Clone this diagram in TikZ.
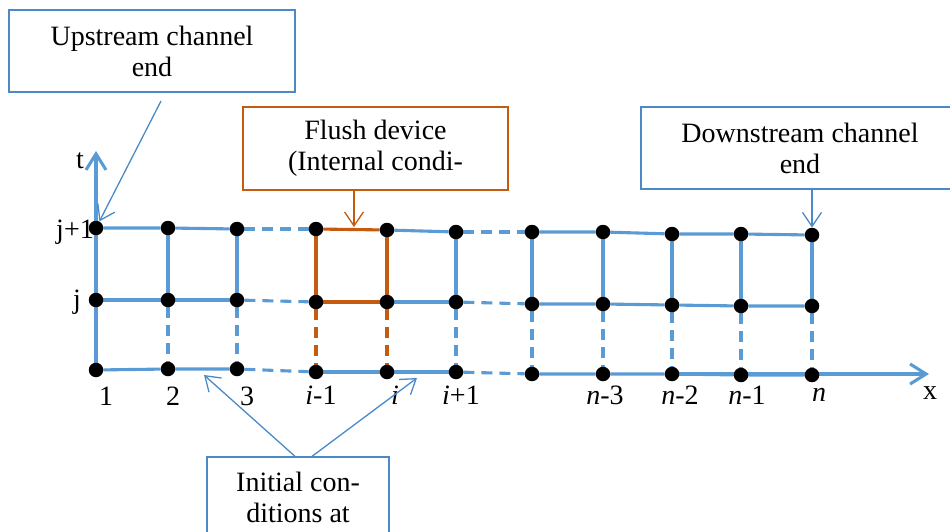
\documentclass[tikz,border=0pt]{standalone}
\usepackage{fontspec}
\setmainfont{Liberation Serif}
\usepackage{tikz}
\pgfdeclarelayer{background}
\pgfsetlayers{background,main}
\usetikzlibrary{arrows.meta, positioning}
\definecolor{meshblue}{HTML}{5B9BD5}
\definecolor{noteblue}{HTML}{4A8AC9}
\definecolor{flushor}{HTML}{C55A11}

\begin{document}
\begin{tikzpicture}[x=1pt, y=-1pt,
    every node/.style={font=\fontsize{28}{31}\selectfont},
    gdot/.style={circle, fill=black, inner sep=0pt, minimum size=14.5pt},
    mesh/.style={line width=3.1pt, color=meshblue},
    meshd/.style={mesh, dash pattern=on 11pt off 7pt},
    flush/.style={line width=3.1pt, color=flushor},
    flushd/.style={flush, dash pattern=on 11pt off 7pt},
    ax/.style={line width=3.1pt, color=meshblue, -{Straight Barb[length=16pt, width=20pt]}},
    note/.style={line width=1.3pt, color=noteblue, -{Straight Barb[length=14pt, width=19pt]}},
    callout/.style={rectangle, draw=noteblue, line width=1.3pt, align=center}
]
\useasboundingbox (0,0) rectangle (950,532);
\clip (0,0) rectangle (950,532);

% Callout boxes
\node[callout, minimum width=286pt, minimum height=82pt] (up) at (152,51) {Upstream channel\\end};
\node[callout, draw=flushor, minimum width=265pt, minimum height=83pt] (fd) at (375.5,148.5) {Flush device\\(Internal condi-};
\node[callout, minimum width=318pt, minimum height=82pt] (dn) at (800,148) {Downstream channel\\end};
\node[callout, minimum width=182pt, minimum height=80pt] (ic) at (298,497) {Initial con-\\ditions at};

% Grid points, row j+1
\node[gdot] (t1)  at (96,228) {};
\node[gdot] (t2)  at (168,228) {};
\node[gdot] (t3)  at (237,229) {};
\node[gdot] (tim) at (316,229) {};
\node[gdot] (ti)  at (387,230) {};
\node[gdot] (tip) at (456,232) {};
\node[gdot] (tn4) at (532,232) {};
\node[gdot] (tn3) at (603,232) {};
\node[gdot] (tn2) at (672,234) {};
\node[gdot] (tn1) at (741,234) {};
\node[gdot] (tn)  at (812,235) {};

% Grid points, row j
\node[gdot] (m1)  at (96,300) {};
\node[gdot] (m2)  at (168,300) {};
\node[gdot] (m3)  at (237,300) {};
\node[gdot] (mim) at (316,302) {};
\node[gdot] (mi)  at (387,302) {};
\node[gdot] (mip) at (456,302) {};
\node[gdot] (mn4) at (532,304) {};
\node[gdot] (mn3) at (603,304) {};
\node[gdot] (mn2) at (672,305) {};
\node[gdot] (mn1) at (741,306) {};
\node[gdot] (mn)  at (812,306) {};

% Grid points, initial row
\node[gdot] (b1)  at (96,370) {};
\node[gdot] (b2)  at (168,369) {};
\node[gdot] (b3)  at (237,369) {};
\node[gdot] (bim) at (316,372) {};
\node[gdot] (bi)  at (387,372) {};
\node[gdot] (bip) at (456,372) {};
\node[gdot] (bn4) at (532,374) {};
\node[gdot] (bn3) at (603,374) {};
\node[gdot] (bn2) at (672,374) {};
\node[gdot] (bn1) at (741,375) {};
\node[gdot] (bn)  at (812,375) {};

% Axis and index labels
\node (lt)  at (80,161) {t};
\node (lx)  at (930,393) {x};
\node (lj1) at (75,232) {j+1};
\node (lj)  at (77,302) {j};
\node (l1)  at (106,396) {1};
\node (l2)  at (173,396) {2};
\node (l3)  at (247,396) {3};
\node (lim) at (321,395) {\textit{i}-1};
\node (li)  at (395,395) {\textit{i}};
\node (lip) at (461,395) {\textit{i}+1};
\node (ln3) at (605,395) {\textit{n}-3};
\node (ln2) at (680,395) {\textit{n}-2};
\node (ln1) at (747,395) {\textit{n}-1};
\node (ln)  at (819,395) {\textit{n}};

\coordinate (tt) at (96,151);
\coordinate (xt) at (929,374);
\coordinate (ua) at (161,101);
\coordinate (fa) at (354,227);
\coordinate (ia) at (204,375);
\coordinate (ib) at (417,378);

\begin{pgfonlayer}{background}
% Axes
\draw[ax] (b1) -- (tt);
\draw[ax] (bn2) -- (xt);
% Horizontal lines
\draw[mesh] (t1) -- (t2) -- (t3);
\draw[meshd] (t3) -- (tim);
\draw[flush] (tim) -- (ti);
\draw[mesh] (ti) -- (tip);
\draw[meshd] (tip) -- (tn4);
\draw[mesh] (tn4) -- (tn3) -- (tn2) -- (tn1) -- (tn);
\draw[mesh] (m1) -- (m2) -- (m3);
\draw[meshd] (m3) -- (mim);
\draw[flush] (mim) -- (mi);
\draw[mesh] (mi) -- (mip);
\draw[meshd] (mip) -- (mn4);
\draw[mesh] (mn4) -- (mn3) -- (mn2) -- (mn1) -- (mn);
\draw[mesh] (b1) -- (b2) -- (b3);
\draw[meshd] (b3) -- (bim);
\draw[mesh] (bim) -- (bi) -- (bip);
\draw[meshd] (bip) -- (bn4);
\draw[mesh] (bn4) -- (bn3) -- (bn2) -- (bn1) -- (bn);
% Vertical lines
\draw[mesh] (t1) -- (m1) -- (b1);
\draw[mesh] (t2) -- (m2);
\draw[mesh] (t3) -- (m3);
\draw[flush] (tim) -- (mim);
\draw[flush] (ti) -- (mi);
\draw[mesh] (tip) -- (mip);
\draw[mesh] (tn4) -- (mn4);
\draw[mesh] (tn3) -- (mn3);
\draw[mesh] (tn2) -- (mn2);
\draw[mesh] (tn1) -- (mn1);
\draw[mesh] (tn) -- (mn);
\draw[meshd] (m2) -- (b2);
\draw[meshd] (m3) -- (b3);
\draw[flushd] (mim) -- (bim);
\draw[flushd] (mi) -- (bi);
\draw[meshd] (mip) -- (bip);
\draw[meshd] (mn4) -- (bn4);
\draw[meshd] (mn3) -- (bn3);
\draw[meshd] (mn2) -- (bn2);
\draw[meshd] (mn1) -- (bn1);
\draw[meshd] (mn) -- (bn);
\end{pgfonlayer}

% Callout pointers
\draw[note] (ua) -- (t1);
\draw[note, color=flushor] (fd.south -| fa) -- (fa);
\draw[note] (dn.south -| tn) -- (tn);
\draw[note] ([xshift=-3pt]ic.north) -- (ia);
\draw[note] ([xshift=14pt]ic.north) -- (ib);
\end{tikzpicture}
\end{document}
